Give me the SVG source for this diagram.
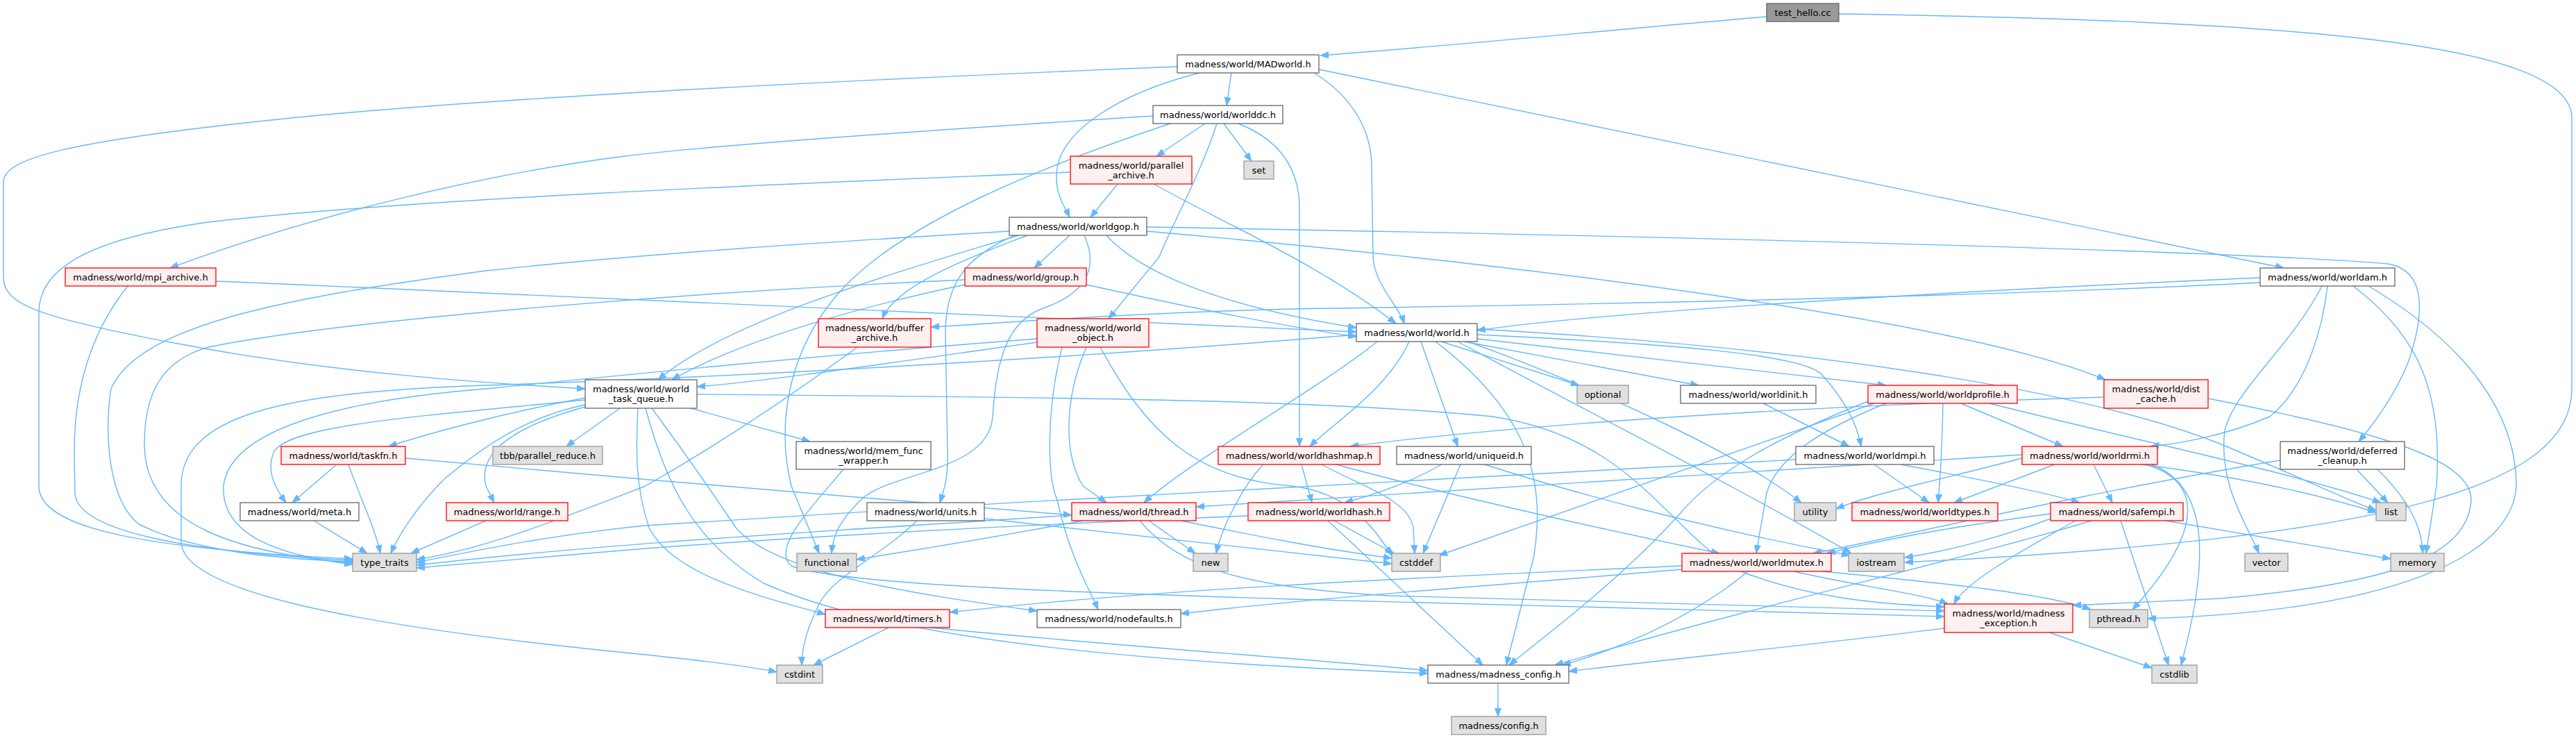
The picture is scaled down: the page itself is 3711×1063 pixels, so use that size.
<svg xmlns="http://www.w3.org/2000/svg" width="3711" height="1063" viewBox="0 0 3711 1063">
<defs>
<marker id="ah" viewBox="0 0 12 10" refX="12" refY="5" markerWidth="12" markerHeight="10" markerUnits="userSpaceOnUse" orient="auto"><path d="M0,0.5 L12,5 L0,9.5 z" fill="#63b8ff" stroke="#63b8ff" stroke-width="1"/></marker>
<style>
.e{fill:none;stroke:#63b8ff;stroke-width:1.4;marker-end:url(#ah)}
.w{fill:#ffffff;stroke:#666666;stroke-width:1.3}
.r{fill:#fff0f0;stroke:#ff0000;stroke-width:1.3}
.g{fill:#e0e0e0;stroke:#999999;stroke-width:1.3}
.k{fill:#999999;stroke:#666666;stroke-width:1.3}
text{font-family:"DejaVu Sans","Liberation Sans",sans-serif;font-size:13px;text-anchor:middle;fill:#000000}
</style>
</defs>
<rect x="0" y="0" width="3711" height="1063" fill="#ffffff"/>
<g id="edges">
<path class="e" d="M2545,24 C2300,45 2100,65 1902,80"/>
<path class="e" d="M2649,20 C3300,30 3705,60 3705,170 L3705,560 C3705,700 3450,775 2744,810"/>
<path class="e" d="M1774,105 L1767,152"/>
<path class="e" d="M1696,96 C1300,112 700,140 400,172 C100,203 5,228 5,262 L5,400 C5,440 60,460 300,503 C500,538 700,552 843,560"/>
<path class="e" d="M1728,105 C1610,135 1525,190 1522,250 C1520,280 1535,300 1541,313"/>
<path class="e" d="M1893,105 C1950,140 1976,190 1976,240 L1978,370 C1980,410 2015,440 2023,466"/>
<path class="e" d="M1900,100 L3290,386"/>
<path class="e" d="M1661,167 C1300,190 1000,212 900,225 C700,250 450,310 245,386"/>
<path class="e" d="M1686,178 C1500,240 1300,320 1210,420 C1130,510 1120,620 1140,700 L1180,797"/>
<path class="e" d="M1736,178 L1666,225"/>
<path class="e" d="M1753,178 C1730,250 1690,320 1670,370 L1597,459"/>
<path class="e" d="M1763,178 L1803,232"/>
<path class="e" d="M1784,178 C1840,200 1872,240 1872,300 L1872,643"/>
<path class="e" d="M1610,265 L1571,313"/>
<path class="e" d="M1542,248 C1200,262 600,285 300,320 C120,345 56,390 56,450 L56,700 C56,760 200,790 508,805"/>
<path class="e" d="M1662,265 C1760,320 1900,380 2011,466"/>
<path class="e" d="M1454,333 C1200,348 930,365 700,390 C400,430 200,470 160,560 C150,620 155,720 200,755 C280,795 400,805 508,809"/>
<path class="e" d="M1467,339 C1300,390 1050,460 948,547"/>
<path class="e" d="M1480,339 C1400,370 1290,410 1271,459"/>
<path class="e" d="M1462,339 C1390,370 1362,410 1362,480 L1365,650 C1366,690 1360,705 1354,724"/>
<path class="e" d="M1541,339 L1490,386"/>
<path class="e" d="M1562,339 C1585,390 1560,425 1500,445 C1450,465 1435,520 1430,600 C1425,680 1280,680 1240,720 C1210,750 1200,770 1198,797"/>
<path class="e" d="M1594,339 C1640,390 1750,440 1954,472"/>
<path class="e" d="M1652,327 C2300,338 3200,360 3440,380 C3500,390 3490,460 3470,520 C3450,570 3420,610 3398,636"/>
<path class="e" d="M1652,333 C2300,390 2850,470 3033,547"/>
<path class="e" d="M184,412 C130,480 107,560 107,650 L108,710 C110,770 300,797 508,807"/>
<path class="e" d="M311,405 C900,430 1500,455 1954,478"/>
<path class="e" d="M1390,403 C1000,420 500,460 300,500 C230,520 208,570 208,640 C208,760 350,797 508,811"/>
<path class="e" d="M1390,410 C1200,450 1050,500 968,547"/>
<path class="e" d="M1565,410 C1700,440 1850,470 1954,485"/>
<path class="e" d="M1235,500 C1100,600 1000,660 930,700 C800,750 700,790 600,806"/>
<path class="e" d="M1494,493 C1300,520 1100,550 1004,557"/>
<path class="e" d="M1494,488 C1200,510 900,540 700,560 C450,580 330,630 322,700 C318,770 400,800 508,813"/>
<path class="e" d="M1565,500 C1535,570 1530,650 1560,700 L1594,724"/>
<path class="e" d="M1585,500 C1650,620 1720,690 1860,700 C1950,710 1985,770 2005,800"/>
<path class="e" d="M1530,500 C1505,600 1510,690 1523,720 C1540,800 1570,850 1582,878"/>
<path class="e" d="M2030,492 C2000,560 1920,610 1887,643"/>
<path class="e" d="M2047,492 L2100,643"/>
<path class="e" d="M2076,492 L2275,555"/>
<path class="e" d="M2109,492 L2447,555"/>
<path class="e" d="M2128,488 L2717,555"/>
<path class="e" d="M2128,482 C2400,495 2600,510 2625,540 C2660,580 2675,610 2681,643"/>
<path class="e" d="M1984,492 C1900,560 1720,660 1648,724"/>
<path class="e" d="M1954,482 C1500,520 1000,545 700,555 C400,565 261,600 261,700 L261,780 C261,850 500,900 900,940 C1000,950 1080,960 1119,968"/>
<path class="e" d="M2068,492 C2210,600 2225,700 2210,800 L2170,958"/>
<path class="e" d="M2100,492 C2300,600 2500,700 2667,797"/>
<path class="e" d="M2128,474 C2600,500 3000,560 3200,640 C3320,690 3380,720 3423,735"/>
<path class="e" d="M2115,492 C2300,560 2500,650 2595,724"/>
<path class="e" d="M485,669 L421,724"/>
<path class="e" d="M502,669 C520,720 540,760 548,797"/>
<path class="e" d="M584,660 C900,690 1300,720 1544,742"/>
<path class="e" d="M843,573 C700,600 600,630 560,643"/>
<path class="e" d="M893,588 L816,643"/>
<path class="e" d="M995,588 L1167,636"/>
<path class="e" d="M843,576 C600,600 420,612 395,650 C382,680 398,705 412,724"/>
<path class="e" d="M843,583 C760,600 700,640 640,690 C600,730 575,770 563,797"/>
<path class="e" d="M843,586 C720,620 690,660 700,700 L712,724"/>
<path class="e" d="M919,588 C916,650 915,700 935,760 C970,830 1100,860 1189,885"/>
<path class="e" d="M939,588 C985,650 1020,700 1060,760 C1120,830 1350,860 1494,880"/>
<path class="e" d="M930,588 C960,700 1000,780 1100,840 C1300,930 1700,955 2057,970"/>
<path class="e" d="M1004,568 C1500,572 1900,575 2150,600 C2350,630 2400,760 2500,820 C2600,860 2700,870 2801,874"/>
<path class="e" d="M1215,676 C1170,730 1110,790 1140,815 C1200,840 1500,852 1860,863 C2300,876 2600,884 2801,888"/>
<path class="e" d="M452,750 L529,797"/>
<path class="e" d="M700,750 L592,797"/>
<path class="e" d="M1321,750 C1270,800 1200,830 1180,870 C1160,910 1155,940 1155,958"/>
<path class="e" d="M1418,747 C1700,780 1900,800 2005,812"/>
<path class="e" d="M1560,750 C1400,780 1300,795 1234,806"/>
<path class="e" d="M1655,750 L1722,797"/>
<path class="e" d="M1544,742 C1200,765 900,780 600,814"/>
<path class="e" d="M1701,750 C1800,770 1900,790 2005,804"/>
<path class="e" d="M1642,750 C1700,820 1800,847 2000,858 C2400,870 2700,876 2801,880"/>
<path class="e" d="M1875,669 L1890,724"/>
<path class="e" d="M1820,669 C1790,700 1760,760 1752,797"/>
<path class="e" d="M1904,669 C1960,700 2030,720 2036,760 L2038,797"/>
<path class="e" d="M1925,669 C2000,690 2200,740 2477,797"/>
<path class="e" d="M2587,662 C2200,680 1500,720 930,757 C800,770 700,790 600,810"/>
<path class="e" d="M1922,750 L2008,797"/>
<path class="e" d="M1913,750 L2136,958"/>
<path class="e" d="M1798,743 C1500,755 1200,770 930,790 C800,800 700,810 600,818"/>
<path class="e" d="M2077,669 C2040,690 1990,710 1937,724"/>
<path class="e" d="M2104,669 L2050,797"/>
<path class="e" d="M2139,669 C2250,705 2450,760 2665,800"/>
<path class="e" d="M2540,581 L2664,643"/>
<path class="e" d="M2825,581 L2972,643"/>
<path class="e" d="M2799,581 C2798,640 2795,690 2792,724"/>
<path class="e" d="M2717,581 C2620,620 2560,660 2545,710 L2530,797"/>
<path class="e" d="M2691,578 C2560,630 2470,680 2420,740 C2330,840 2220,920 2174,958"/>
<path class="e" d="M2700,581 L2073,800"/>
<path class="e" d="M2866,581 C3100,640 3300,680 3430,724"/>
<path class="e" d="M2700,669 L2779,724"/>
<path class="e" d="M2738,669 C2850,690 2950,710 2996,724"/>
<path class="e" d="M2960,669 L2815,724"/>
<path class="e" d="M3016,669 L3043,724"/>
<path class="e" d="M2913,655 C2500,680 2000,715 1723,730"/>
<path class="e" d="M2913,660 C2800,690 2700,710 2645,733"/>
<path class="e" d="M3085,669 C3250,690 3350,715 3423,738"/>
<path class="e" d="M3090,669 C3170,690 3180,760 3072,878"/>
<path class="e" d="M3100,669 C3180,700 3185,800 3142,958"/>
<path class="e" d="M2954,740 C2800,760 2700,780 2632,797"/>
<path class="e" d="M3013,750 C2850,800 2500,880 2240,958"/>
<path class="e" d="M2957,746 C2880,775 2800,795 2744,803"/>
<path class="e" d="M3055,750 L3124,958"/>
<path class="e" d="M3120,750 L3444,805"/>
<path class="e" d="M2990,750 C2900,800 2830,840 2815,870"/>
<path class="e" d="M2518,823 C2450,880 2350,930 2251,958"/>
<path class="e" d="M2584,823 C2680,845 2770,855 2806,870"/>
<path class="e" d="M2423,815 C2100,830 1700,845 1368,882"/>
<path class="e" d="M2423,820 C2200,840 1900,860 1701,884"/>
<path class="e" d="M2625,823 C2800,840 2950,855 3012,878"/>
<path class="e" d="M2801,905 C2600,930 2400,950 2260,967"/>
<path class="e" d="M2952,911 L3100,962"/>
<path class="e" d="M2158,984 L2158,1032"/>
<path class="e" d="M1280,904 L1172,958"/>
<path class="e" d="M1340,904 C1600,930 1900,950 2057,966"/>
<path class="e" d="M3395,676 L3440,724"/>
<path class="e" d="M3425,676 C3470,720 3490,760 3490,797"/>
<path class="e" d="M3285,663 C3000,710 2750,770 2612,797"/>
<path class="e" d="M3256,400 C2800,420 2300,450 2128,476"/>
<path class="e" d="M3256,407 C2800,430 2200,440 1860,445 C1600,452 1450,465 1341,471"/>
<path class="e" d="M3353,412 C3345,480 3320,560 3270,600 C3200,630 3130,640 3098,643"/>
<path class="e" d="M3345,412 C3300,500 3220,560 3205,620 C3195,700 3240,760 3254,797"/>
<path class="e" d="M3390,412 C3480,480 3520,560 3510,700 L3495,797"/>
<path class="e" d="M3412,412 C3560,500 3625,600 3625,700 C3620,800 3450,880 3094,891"/>
<path class="e" d="M3031,572 C2600,585 2200,610 1945,643"/>
<path class="e" d="M3181,574 C3420,620 3560,660 3560,720 C3555,800 3450,840 3200,862 L2986,872"/>
</g>
<g id="n_test_hello"><rect class="k" x="2545" y="5" width="104" height="26"/><text x="2597" y="22.5">test_hello.cc</text></g>
<g id="n_MADworld"><rect class="w" x="1696" y="79" width="204" height="26"/><text x="1798" y="96.5">madness/world/MADworld.h</text></g>
<g id="n_worlddc"><rect class="w" x="1661" y="152" width="187" height="26"/><text x="1754.5" y="169.5">madness/world/worlddc.h</text></g>
<g id="n_set"><rect class="g" x="1792" y="232" width="43" height="26"/><text x="1813.5" y="249.5">set</text></g>
<g id="n_parallel_archive"><rect class="r" x="1542" y="225" width="175" height="40"/><text x="1629.5" y="242.5">madness/world/parallel</text><text x="1629.5" y="256.5">_archive.h</text></g>
<g id="n_worldgop"><rect class="w" x="1454" y="313" width="198" height="26"/><text x="1553" y="330.5">madness/world/worldgop.h</text></g>
<g id="n_mpi_archive"><rect class="r" x="94" y="386" width="217" height="26"/><text x="202.5" y="403.5">madness/world/mpi_archive.h</text></g>
<g id="n_group"><rect class="r" x="1390" y="386" width="175" height="26"/><text x="1477.5" y="403.5">madness/world/group.h</text></g>
<g id="n_worldam"><rect class="w" x="3256" y="386" width="194" height="26"/><text x="3353" y="403.5">madness/world/worldam.h</text></g>
<g id="n_buffer_archive"><rect class="r" x="1179" y="459" width="162" height="41"/><text x="1260" y="477">madness/world/buffer</text><text x="1260" y="491">_archive.h</text></g>
<g id="n_world_object"><rect class="r" x="1494" y="459" width="161" height="41"/><text x="1574.5" y="477">madness/world/world</text><text x="1574.5" y="491">_object.h</text></g>
<g id="n_world"><rect class="w" x="1954" y="466" width="174" height="26"/><text x="2041" y="483.5">madness/world/world.h</text></g>
<g id="n_world_task_queue"><rect class="w" x="843" y="547" width="161" height="41"/><text x="923.5" y="565">madness/world/world</text><text x="923.5" y="579">_task_queue.h</text></g>
<g id="n_optional"><rect class="g" x="2272" y="555" width="74" height="26"/><text x="2309" y="572.5">optional</text></g>
<g id="n_worldinit"><rect class="w" x="2421" y="555" width="195" height="26"/><text x="2518.5" y="572.5">madness/world/worldinit.h</text></g>
<g id="n_worldprofile"><rect class="r" x="2691" y="555" width="215" height="26"/><text x="2798.5" y="572.5">madness/world/worldprofile.h</text></g>
<g id="n_dist_cache"><rect class="r" x="3031" y="547" width="150" height="41"/><text x="3106" y="565">madness/world/dist</text><text x="3106" y="579">_cache.h</text></g>
<g id="n_taskfn"><rect class="r" x="405" y="643" width="179" height="26"/><text x="494.5" y="660.5">madness/world/taskfn.h</text></g>
<g id="n_tbb"><rect class="g" x="710" y="643" width="158" height="26"/><text x="789" y="660.5">tbb/parallel_reduce.h</text></g>
<g id="n_mem_func_wrapper"><rect class="w" x="1147" y="636" width="194" height="40"/><text x="1244" y="653.5">madness/world/mem_func</text><text x="1244" y="667.5">_wrapper.h</text></g>
<g id="n_worldhashmap"><rect class="r" x="1755" y="643" width="233" height="26"/><text x="1871.5" y="660.5">madness/world/worldhashmap.h</text></g>
<g id="n_uniqueid"><rect class="w" x="2012" y="643" width="194" height="26"/><text x="2109" y="660.5">madness/world/uniqueid.h</text></g>
<g id="n_worldmpi"><rect class="w" x="2587" y="643" width="199" height="26"/><text x="2686.5" y="660.5">madness/world/worldmpi.h</text></g>
<g id="n_worldrmi"><rect class="r" x="2913" y="643" width="195" height="26"/><text x="3010.5" y="660.5">madness/world/worldrmi.h</text></g>
<g id="n_deferred_cleanup"><rect class="w" x="3285" y="636" width="179" height="40"/><text x="3374.5" y="653.5">madness/world/deferred</text><text x="3374.5" y="667.5">_cleanup.h</text></g>
<g id="n_meta"><rect class="w" x="346" y="724" width="171" height="26"/><text x="431.5" y="741.5">madness/world/meta.h</text></g>
<g id="n_range"><rect class="r" x="643" y="724" width="175" height="26"/><text x="730.5" y="741.5">madness/world/range.h</text></g>
<g id="n_units"><rect class="w" x="1249" y="724" width="169" height="26"/><text x="1333.5" y="741.5">madness/world/units.h</text></g>
<g id="n_thread"><rect class="r" x="1544" y="724" width="179" height="26"/><text x="1633.5" y="741.5">madness/world/thread.h</text></g>
<g id="n_worldhash"><rect class="r" x="1798" y="724" width="204" height="26"/><text x="1900" y="741.5">madness/world/worldhash.h</text></g>
<g id="n_utility"><rect class="g" x="2585" y="724" width="60" height="26"/><text x="2615" y="741.5">utility</text></g>
<g id="n_worldtypes"><rect class="r" x="2668" y="724" width="210" height="26"/><text x="2773" y="741.5">madness/world/worldtypes.h</text></g>
<g id="n_safempi"><rect class="r" x="2954" y="724" width="191" height="26"/><text x="3049.5" y="741.5">madness/world/safempi.h</text></g>
<g id="n_list"><rect class="g" x="3423" y="724" width="43" height="26"/><text x="3444.5" y="741.5">list</text></g>
<g id="n_type_traits"><rect class="g" x="508" y="797" width="92" height="26"/><text x="554" y="814.5">type_traits</text></g>
<g id="n_functional"><rect class="g" x="1148" y="797" width="86" height="26"/><text x="1191" y="814.5">functional</text></g>
<g id="n_new"><rect class="g" x="1719" y="797" width="50" height="26"/><text x="1744" y="814.5">new</text></g>
<g id="n_cstddef"><rect class="g" x="2005" y="797" width="70" height="26"/><text x="2040" y="814.5">cstddef</text></g>
<g id="n_worldmutex"><rect class="r" x="2423" y="797" width="215" height="26"/><text x="2530.5" y="814.5">madness/world/worldmutex.h</text></g>
<g id="n_iostream"><rect class="g" x="2663" y="797" width="80" height="26"/><text x="2703" y="814.5">iostream</text></g>
<g id="n_vector"><rect class="g" x="3234" y="797" width="62" height="26"/><text x="3265" y="814.5">vector</text></g>
<g id="n_memory"><rect class="g" x="3444" y="797" width="77" height="26"/><text x="3482.5" y="814.5">memory</text></g>
<g id="n_timers"><rect class="r" x="1189" y="878" width="179" height="26"/><text x="1278.5" y="895.5">madness/world/timers.h</text></g>
<g id="n_nodefaults"><rect class="w" x="1494" y="878" width="207" height="26"/><text x="1597.5" y="895.5">madness/world/nodefaults.h</text></g>
<g id="n_madness_exception"><rect class="r" x="2801" y="870" width="185" height="41"/><text x="2893.5" y="888">madness/world/madness</text><text x="2893.5" y="902">_exception.h</text></g>
<g id="n_pthread"><rect class="g" x="3010" y="878" width="84" height="26"/><text x="3052" y="895.5">pthread.h</text></g>
<g id="n_cstdint"><rect class="g" x="1119" y="958" width="66" height="26"/><text x="1152" y="975.5">cstdint</text></g>
<g id="n_madness_config"><rect class="w" x="2057" y="958" width="203" height="26"/><text x="2158.5" y="975.5">madness/madness_config.h</text></g>
<g id="n_cstdlib"><rect class="g" x="3100" y="958" width="65" height="26"/><text x="3132.5" y="975.5">cstdlib</text></g>
<g id="n_config"><rect class="g" x="2091" y="1032" width="136" height="26"/><text x="2159" y="1049.5">madness/config.h</text></g>
</svg>
